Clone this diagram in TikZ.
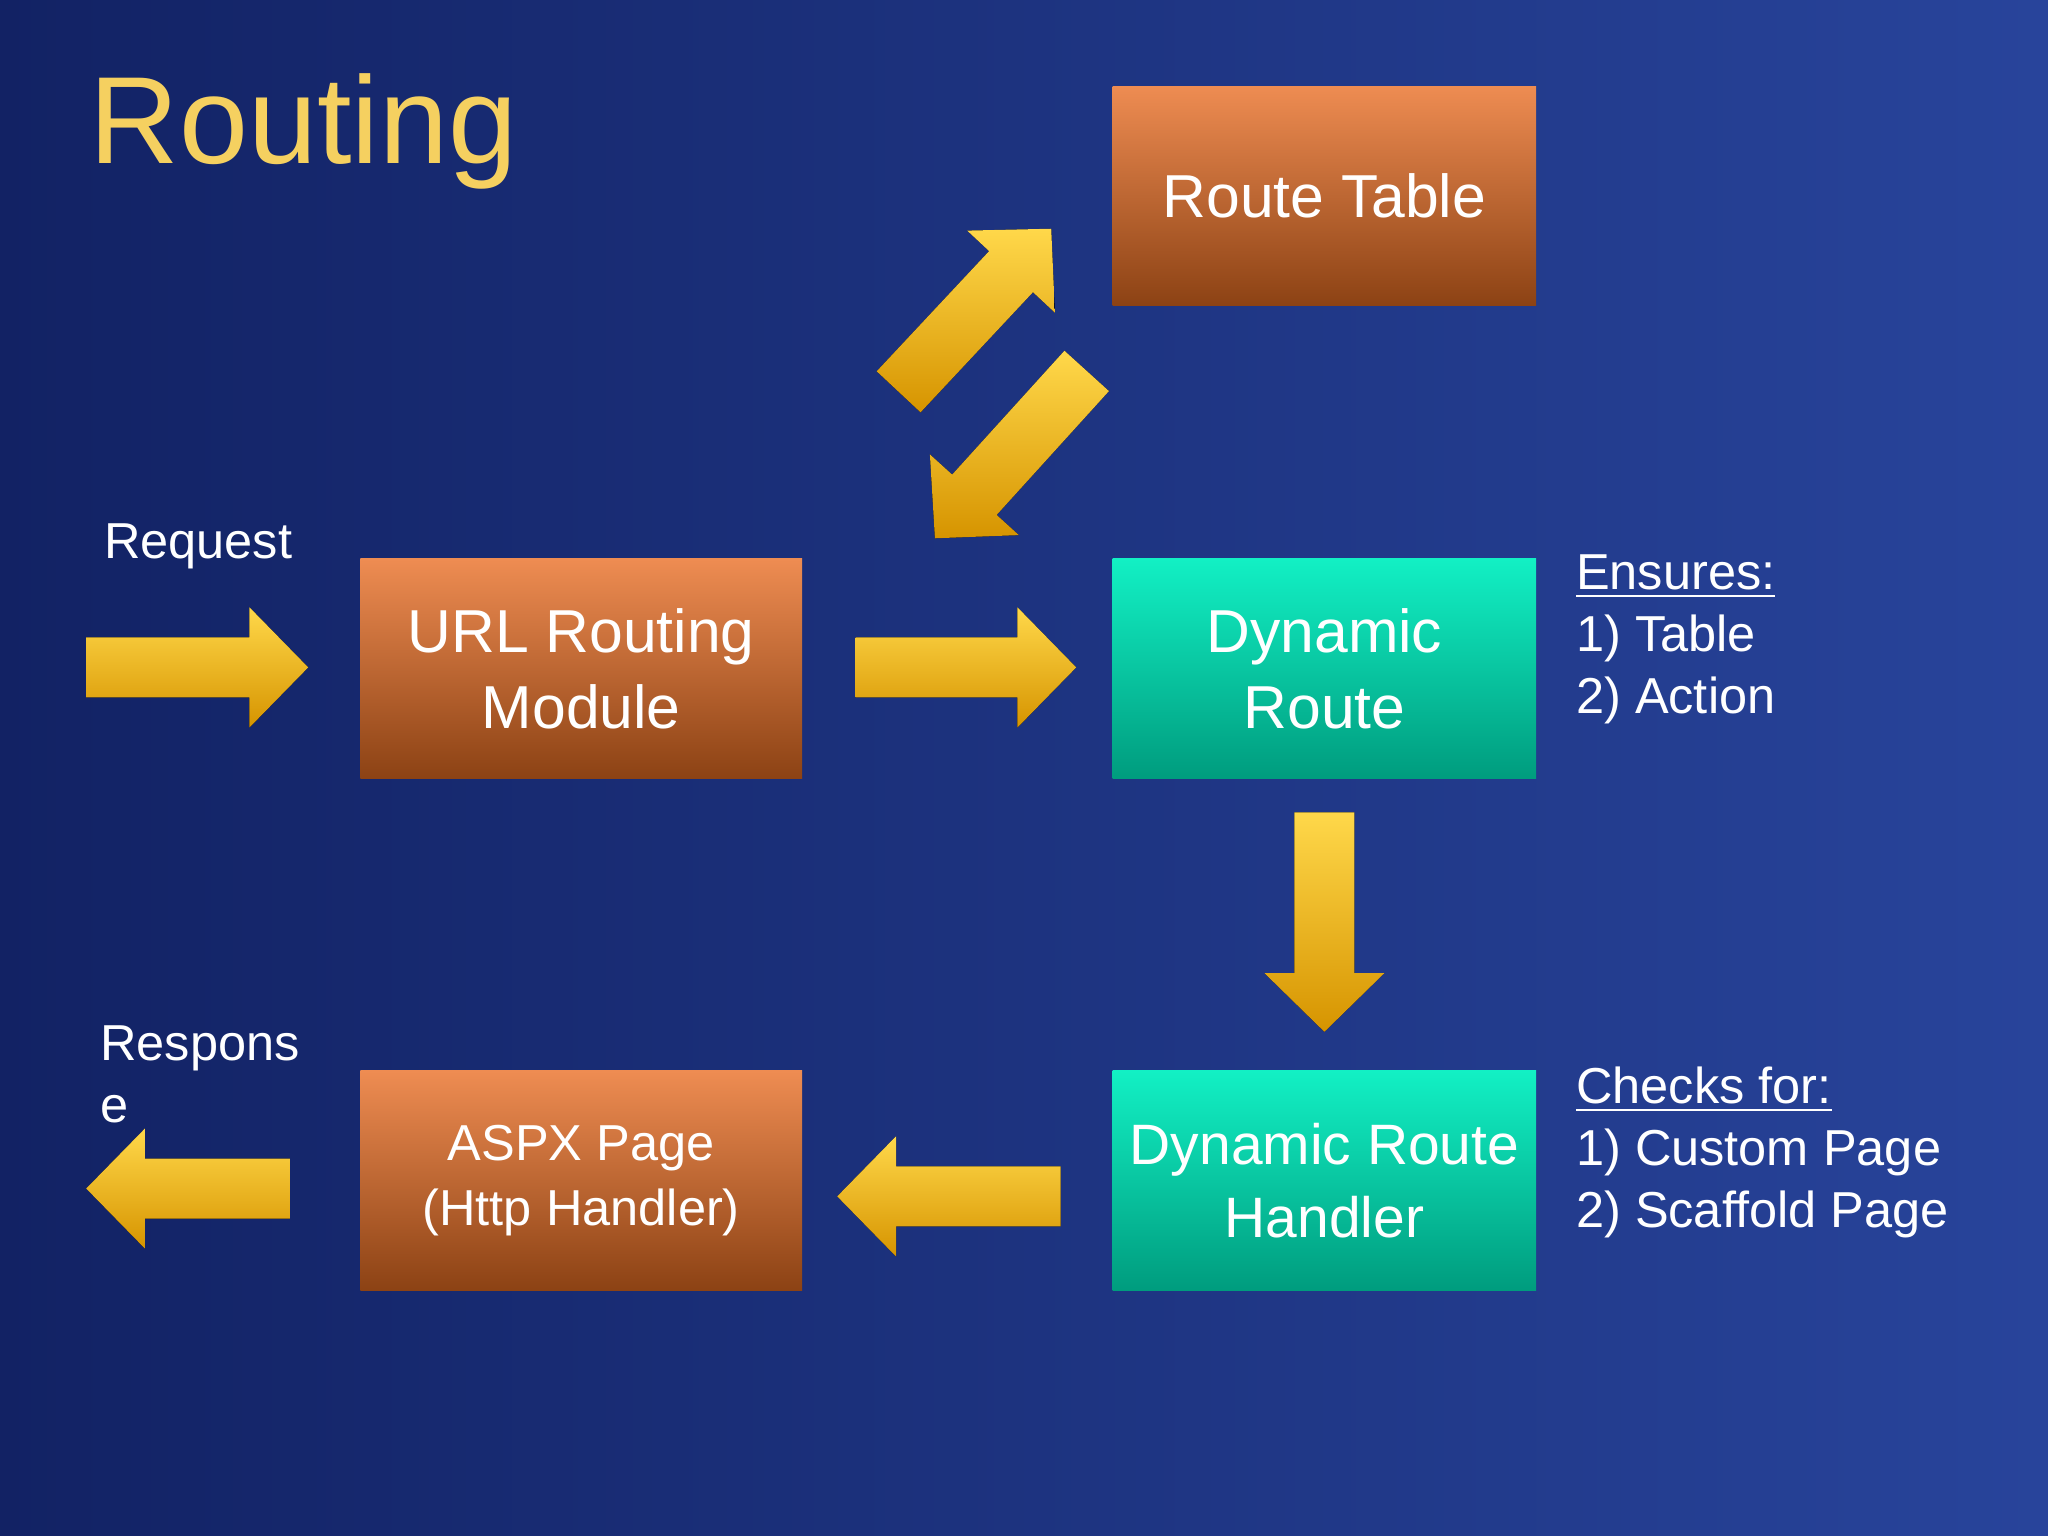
\documentclass[tikz,border=0pt]{standalone}
\usepackage{fontspec}
\setmainfont{Liberation Sans}
\begin{document}
\begin{tikzpicture}[x=0.01cm,y=0.01cm,
  orangebox/.style={draw=none,top color=otop,bottom color=obot,minimum width=3.24cm,minimum height=1.68cm,text=white,font=\fontsize{13.2}{16.5}\selectfont,align=center,inner sep=0pt},
  tealbox/.style={draw=none,top color=tealtop,bottom color=tealbot,minimum width=3.24cm,minimum height=1.68cm,text=white,font=\fontsize{13.2}{16.5}\selectfont,align=center,inner sep=0pt},
  side/.style={text=white,font=\fontsize{11}{13.5}\selectfont,align=left,anchor=north west,inner sep=0pt}]
\definecolor{tealtop}{HTML}{12F0C4}
\definecolor{tealbot}{HTML}{009C7E}
\definecolor{otop}{HTML}{EE8C52}
\definecolor{obot}{HTML}{8C4214}
\definecolor{ytop}{HTML}{FFD84A}
\definecolor{ybot}{HTML}{D69400}
\newcommand\fatarrow[4]{%
  \begin{scope}[shift={(#1,#2)},rotate=#3]
   \fill[top color=ytop,bottom color=ybot] (0,-23) -- (#4-45,-23) -- (#4-45,-46) -- (#4,0) -- (#4-45,46) -- (#4-45,23) -- (0,23) -- cycle;
  \end{scope}}
\useasboundingbox (0,0) rectangle (1568,1176);
\fill[left color={rgb,255:red,18;green,34;blue,100},right color={rgb,255:red,40;green,68;blue,155}] (0,0) rectangle (1568,1176);
\node[text={rgb,255:red,245;green,208;blue,96},font=\fontsize{27}{32}\selectfont,anchor=west,inner sep=0pt] (title) at (68,1075) {Routing};
% boxes
\node[orangebox] (rt) at (1014,1026) {Route Table};
\node[orangebox,minimum width=3.38cm] (url) at (445,664) {URL Routing\\Module};
\node[tealbox] (dr) at (1014,664) {Dynamic\\Route};
\node[tealbox,font=\fontsize{12.4}{15.8}\selectfont] (drh) at (1014,272) {Dynamic Route\\Handler};
\node[orangebox,minimum width=3.38cm,font=\fontsize{11}{14}\selectfont] (aspx) at (445,272) {ASPX Page\\(Http Handler)};
% arrows
\fatarrow{66}{665}{0}{170}
\fatarrow{655}{665}{0}{169}
\fatarrow{1014}{554}{-90}{168}
\fatarrow{812}{260}{180}{171}
\fatarrow{222}{266}{180}{156}
\fatarrow{688}{876}{46.9}{171}
\fatarrow{832}{892}{227.8}{173}
% side texts
\node[side] (req) at (79,776) {Request};
\node[side] (resp) at (76,391) {Respons\\e};
\node[side] (ens) at (1206,752) {\underline{Ensures:}\\1) Table\\2) Action};
\node[side] (chk) at (1206,360) {\underline{Checks for:}\\1) Custom Page\\2) Scaffold Page};
\end{tikzpicture}
\end{document}
